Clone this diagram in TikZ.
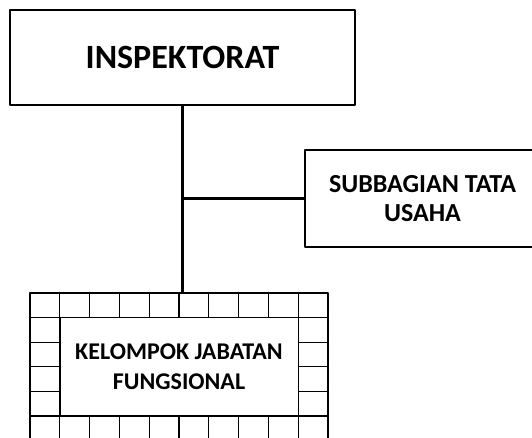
\documentclass[tikz,border=0pt]{standalone}
\usepackage{fontspec}
\setmainfont{Carlito}
\tikzset{
  unitbox/.style={draw, line width=1.4pt, fill=white, align=center, font=\bfseries},
  cell/.style={draw, line width=1.3pt},
  trunk/.style={line width=3.6pt},
}
\begin{document}
\begin{tikzpicture}[x=1pt,y=-1pt, line join=round]
  \def\cw{29.8} \def\rh{24.6}
  \useasboundingbox (0,0) rectangle (532,438);
  % border of small cells round the functional group
  \foreach \i in {0,...,9}
    \foreach \j in {0,...,5}
      \draw[cell] (30+\i*\cw,293+\j*\rh) rectangle ++(\cw,\rh);
  \coordinate (frametop) at (180,293);
  \node[unitbox, minimum width=345pt, minimum height=95pt,
        font=\bfseries\fontsize{34}{38}\selectfont] (inspektorat) at (182.5,57.5) {INSPEKTORAT};
  \node[unitbox, minimum width=235pt, minimum height=97pt,
        font=\bfseries\fontsize{26}{29}\selectfont] (subbag) at (422.5,198.5) {SUBBAGIAN TATA\\USAHA};
  \node[unitbox, minimum width=238.4pt, minimum height=98.4pt,
        font=\bfseries\fontsize{24}{30}\selectfont] (kjf) at (179,366.8) {KELOMPOK JABATAN\\FUNGSIONAL};
  \draw[trunk] (inspektorat.south) -- (inspektorat.south |- frametop);
  \draw[line width=2.8pt] (inspektorat.south |- subbag.west) -- (subbag.west);
\end{tikzpicture}
\end{document}
